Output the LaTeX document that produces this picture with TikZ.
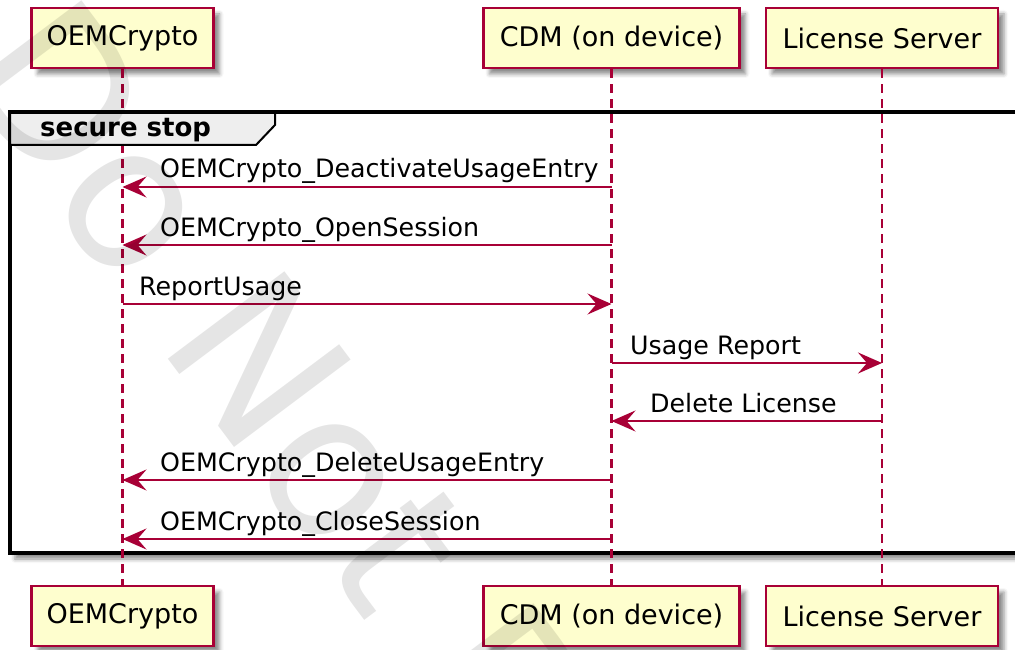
\documentclass[tikz,border=0pt]{standalone}
\usepackage{fontspec}
\setmainfont{DejaVu Sans}
\usetikzlibrary{arrows.meta}
\usetikzlibrary{shadows,shadows.blur}
\definecolor{umlred}{HTML}{A80036}
\definecolor{umlfill}{HTML}{FEFECE}
\definecolor{tabfill}{HTML}{EEEEEE}

\begin{document}
\begin{tikzpicture}[x=1pt,y=-1pt,
    actor/.style={draw=umlred,line width=2.2pt,fill=umlfill,minimum height=60pt,inner sep=0pt,
      font=\fontsize{27}{32}\selectfont,
      blur shadow={shadow xshift=6pt,shadow yshift=-6pt,shadow blur radius=4pt,shadow opacity=45}},
    life/.style={umlred,line width=2.2pt,dash pattern=on 9pt off 6pt},
    msg/.style={umlred,line width=2pt,-{Stealth[length=24pt,width=21pt,inset=9pt]}},
    lbl/.style={anchor=base west,inner sep=0pt,font=\fontsize{25.3}{30}\selectfont}]
    \clip (0,0) rectangle (1015,650);
    \draw[line width=3.2pt,fill=white,blur shadow={shadow xshift=5pt,shadow yshift=-6pt,shadow blur radius=4pt,shadow opacity=45}] (10,112) rectangle (1045,553);
    \node[actor,minimum width=182pt] (oemTop) at (122.5,38) {OEMCrypto};
    \node[actor,minimum width=256pt] (cdmTop) at (611.5,38) {CDM (on device)};
    \node[actor,minimum width=232pt] (lsTop) at (882,38) {License Server};
    \node[actor,minimum width=182pt] (oemBot) at (122.5,616) {OEMCrypto};
    \node[actor,minimum width=256pt] (cdmBot) at (611.5,616) {CDM (on device)};
    \node[actor,minimum width=232pt] (lsBot) at (882,616) {License Server};
    \draw[life] (oemTop) -- (oemBot);
    \draw[life] (cdmTop) -- (cdmBot);
    \draw[life] (lsTop) -- (lsBot);
    \draw[line width=2pt,fill=tabfill] (10,112) -- (275,112) -- (275,125) -- (256,145) -- (10,145) -- cycle;
    \draw[line width=3.2pt] (10,112) -- (275,112);
    \node[anchor=base west,inner sep=0pt,font=\fontsize{26}{30}\selectfont\bfseries] (grp) at (40,137) {secure stop};
    \coordinate (r1) at (0,187);
    \coordinate (r2) at (0,245);
    \coordinate (r3) at (0,304);
    \coordinate (r4) at (0,363);
    \coordinate (r5) at (0,421);
    \coordinate (r6) at (0,480);
    \coordinate (r7) at (0,539);
    \draw[msg] (cdmTop |- r1) -- (oemTop |- r1);
    \node[lbl] (m1) at (160,178) {OEMCrypto\_DeactivateUsageEntry};
    \draw[msg] (cdmTop |- r2) -- (oemTop |- r2);
    \node[lbl] (m2) at (160,236) {OEMCrypto\_OpenSession};
    \draw[msg] (oemTop |- r3) -- (cdmTop |- r3);
    \node[lbl] (m3) at (139,295) {ReportUsage};
    \draw[msg] (cdmTop |- r4) -- (lsTop |- r4);
    \node[lbl] (m4) at (630,354) {Usage Report};
    \draw[msg] (lsTop |- r5) -- (cdmTop |- r5);
    \node[lbl] (m5) at (650,412) {Delete License};
    \draw[msg] (cdmTop |- r6) -- (oemTop |- r6);
    \node[lbl] (m6) at (160,471) {OEMCrypto\_DeleteUsageEntry};
    \draw[msg] (cdmTop |- r7) -- (oemTop |- r7);
    \node[lbl] (m7) at (160,530) {OEMCrypto\_CloseSession};
    \node[rotate=-53.13,anchor=base west,inner sep=0pt,opacity=0.1,font=\fontsize{200}{200}\selectfont] (mark) at (-47,72) {Do Not Distribute};
\end{tikzpicture}
\end{document}
